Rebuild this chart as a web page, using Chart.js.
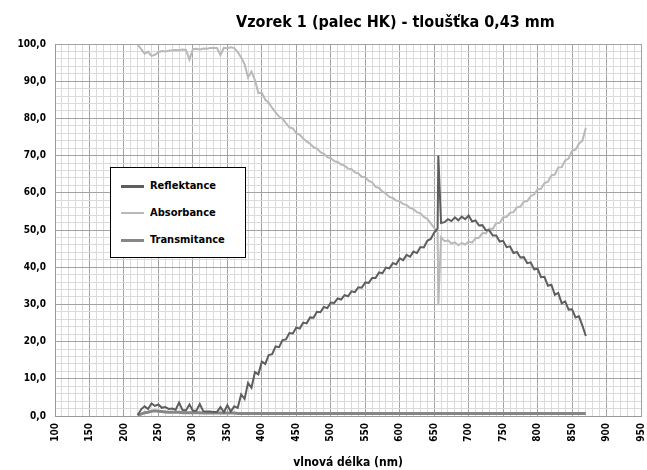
<!DOCTYPE html>
<html>
<head>
<meta charset="utf-8">
<script src="https://cdn.jsdelivr.net/npm/chart.js@4/dist/chart.umd.min.js"></script>
<style>
    body { margin: 0; background: #fff; }
    #wrap { position: relative; width: 647px; height: 470px; }
    #chartTitle {
        position: absolute; left: 236px; top: 14px; white-space: nowrap;
        font: bold 16px "DejaVu Sans Condensed", "Liberation Sans Narrow", sans-serif; line-height: 16px;
    }
    #legendBox {
        position: absolute; left: 110px; top: 167px; width: 134px; height: 89px;
        border: 1px solid #000; background: #fff;
        font: bold 11px "DejaVu Sans Condensed", "Liberation Sans Narrow", sans-serif;
    }
    .item { position: absolute; left: 10px; height: 14px; line-height: 14px; white-space: nowrap; }
    .item span.line { display: inline-block; width: 23px; vertical-align: middle; margin-right: 6px; }
</style>
</head>
<body>
<div id="wrap">
    <canvas id="spectrumChart" width="647" height="470"></canvas>
    <div id="chartTitle">Vzorek 1 (palec HK) - tloušťka 0,43 mm</div>
    <div id="legendBox"></div>
</div>
<script>
// wavelengths (nm)
const wavelengths = [220, 225, 230, 235, 240, 245, 250, 255, 260, 265, 270, 275, 280, 285, 290, 295, 300, 305, 310, 315,
    320, 325, 330, 335, 340, 345, 350, 355, 360, 365, 370, 375, 380, 385, 390, 395, 400, 405, 410, 415,
    420, 425, 430, 435, 440, 445, 450, 455, 460, 465, 470, 475, 480, 485, 490, 495, 500, 505, 510, 515,
    520, 525, 530, 535, 540, 545, 550, 555, 560, 565, 570, 575, 580, 585, 590, 595, 600, 605, 610, 615,
    620, 625, 630, 635, 640, 645, 650, 655, 656, 660, 665, 670, 675, 680, 685, 690, 695, 700, 705, 710,
    715, 720, 725, 730, 735, 740, 745, 750, 755, 760, 765, 770, 775, 780, 785, 790, 795, 800, 805, 810,
    815, 820, 825, 830, 835, 840, 845, 850, 855, 860, 865, 870];

const reflektance = [0.2, 1.8, 2.6, 1.9, 3.4, 2.7, 3.1, 2.2, 2.4, 1.9, 2.0, 1.7, 3.6, 1.6, 1.5, 3.1, 1.4, 1.4, 3.2, 1.3,
    1.2, 1.2, 1.1, 1.1, 2.4, 1.0, 2.9, 1.2, 2.6, 2.2, 5.8, 4.6, 8.9, 7.6, 11.8, 11.2, 14.6, 14.0, 16.4, 16.6,
    18.7, 18.5, 20.4, 20.6, 22.3, 22.2, 23.8, 23.5, 25.1, 24.9, 26.5, 26.4, 28.0, 27.9, 29.3, 29.0, 30.5, 30.4, 31.6, 31.3,
    32.5, 32.2, 33.5, 33.3, 34.6, 34.5, 35.9, 35.8, 37.1, 37.1, 38.6, 38.4, 39.9, 39.7, 41.1, 40.8, 42.4, 41.9, 43.3, 42.8,
    44.2, 43.8, 45.4, 45.3, 47.1, 47.6, 49.3, 50.4, 70.0, 51.9, 52.1, 52.9, 52.4, 53.4, 52.6, 53.6, 52.9, 53.9, 52.3, 52.6,
    51.2, 51.3, 49.9, 49.9, 48.5, 48.5, 46.9, 47.1, 45.4, 45.6, 43.8, 44.1, 42.6, 42.7, 41.1, 41.3, 39.4, 39.6, 37.3, 37.4,
    35.0, 35.3, 32.6, 33.1, 30.3, 30.8, 28.6, 28.7, 26.5, 26.8, 24.3, 21.5];

const absorbance = [99.9, 98.6, 97.4, 97.9, 96.8, 97.1, 97.8, 98.1, 98.0, 98.2, 98.3, 98.4, 98.3, 98.5, 98.4, 95.8, 98.6, 98.7, 98.5, 98.8,
    98.7, 98.9, 98.9, 98.9, 97.0, 99.0, 98.8, 99.1, 98.9, 97.8, 96.4, 94.6, 91.0, 92.6, 90.3, 86.8, 86.9, 85.0, 84.2, 82.8,
    81.6, 80.5, 79.9, 78.7, 77.6, 77.3, 76.0, 75.6, 74.6, 73.8, 73.2, 72.3, 71.9, 70.9, 70.5, 69.6, 69.3, 68.5, 68.3, 67.6,
    67.3, 66.5, 66.4, 65.5, 65.2, 64.3, 64.2, 63.2, 62.8, 61.6, 61.3, 60.3, 59.8, 58.9, 58.6, 57.9, 57.7, 57.0, 56.7, 55.9,
    55.6, 54.8, 54.5, 53.5, 53.0, 51.8, 50.6, 49.4, 29.8, 48.0, 47.0, 47.2, 46.4, 46.7, 45.9, 46.5, 46.1, 46.9, 46.6, 47.8,
    47.9, 49.2, 49.1, 50.4, 50.3, 51.8, 51.9, 53.4, 53.5, 54.6, 54.8, 56.1, 56.3, 57.6, 57.8, 59.1, 59.6, 60.9, 61.1, 62.6,
    63.0, 64.7, 64.9, 66.8, 66.9, 68.7, 69.2, 71.3, 71.6, 73.2, 74.0, 77.5];

const transmitance = [0.3, 0.5, 0.9, 1.0, 1.3, 1.4, 1.3, 1.2, 1.1, 1.0, 1.0, 1.0, 1.0, 0.9, 0.9, 0.9, 0.9, 0.9, 0.9, 0.8,
    0.8, 0.8, 0.8, 0.8, 0.8, 0.8, 0.8, 0.8, 0.8, 0.7, 0.7, 0.7, 0.7, 0.7, 0.7, 0.7, 0.7, 0.7, 0.7, 0.7,
    0.7, 0.7, 0.7, 0.7, 0.7, 0.7, 0.7, 0.7, 0.7, 0.7, 0.7, 0.7, 0.7, 0.7, 0.7, 0.7, 0.7, 0.7, 0.7, 0.7,
    0.7, 0.7, 0.7, 0.7, 0.7, 0.7, 0.7, 0.7, 0.7, 0.7, 0.7, 0.7, 0.7, 0.7, 0.7, 0.7, 0.7, 0.7, 0.7, 0.7,
    0.7, 0.7, 0.7, 0.7, 0.7, 0.7, 0.7, 0.7, 0.7, 0.7, 0.7, 0.7, 0.7, 0.7, 0.7, 0.7, 0.7, 0.7, 0.7, 0.7,
    0.7, 0.7, 0.7, 0.7, 0.7, 0.7, 0.7, 0.7, 0.7, 0.7, 0.7, 0.7, 0.7, 0.7, 0.7, 0.7, 0.7, 0.7, 0.7, 0.7,
    0.7, 0.7, 0.7, 0.7, 0.7, 0.7, 0.7, 0.7, 0.7, 0.7, 0.7, 0.7];

const seriesNames = ["Reflektance", "Absorbance", "Transmitance"];
const seriesColors = ["#5e5e5e", "#b9b9b9", "#868686"];
const seriesWidths = [2, 2, 3];
const legendWidths = [3, 2, 3];

const tickFont = { family: "'DejaVu Sans Condensed', 'Liberation Sans Narrow', sans-serif", size: 10, weight: "bold" };

function toPoints(values) {
    return wavelengths.map((w, i) => ({ x: w, y: values[i] }));
}

// legend box (html overlay)
const legendBox = document.getElementById("legendBox");
seriesNames.forEach((name, i) => {
    let item = document.createElement("div");
    item.className = "item";
    item.style.top = (11 + i * 27) + "px";
    item.innerHTML = '<span class="line" style="border-top:' + legendWidths[i] + 'px solid ' + seriesColors[i] + '"></span>' + name;
    legendBox.appendChild(item);
});

const ctx = document.getElementById("spectrumChart").getContext("2d");
new Chart(ctx, {
    type: "line",
    data: {
        datasets: [reflektance, absorbance, transmitance].map((vals, i) => ({
            label: seriesNames[i],
            data: toPoints(vals),
            borderColor: seriesColors[i],
            borderWidth: seriesWidths[i],
            pointRadius: 0,
            tension: 0,
            fill: false
        }))
    },
    options: {
        responsive: false,
        animation: false,
        layout: { padding: { top: 44, right: 0, bottom: 0, left: 0 } },
        plugins: {
            legend: { display: false },
            tooltip: { enabled: false }
        },
        scales: {
            x: {
                type: "linear",
                min: 100,
                max: 950,
                afterFit: scale => {
                    scale.height = 54;
                    scale.paddingLeft = 0;
                    scale.paddingRight = 6;
                },
                border: { color: "#999" },
                grid: {
                    drawTicks: false,
                    color: c => (c.tick && c.tick.value % 50 === 0) ? "#a2a2a2" : "#dadada"
                },
                ticks: {
                    stepSize: 10,
                    maxTicksLimit: 200,
                    autoSkip: false,
                    maxRotation: 90,
                    minRotation: 90,
                    padding: 7,
                    color: "#000",
                    font: tickFont,
                    callback: v => (v % 50 === 0) ? String(v) : ""
                },
                title: {
                    display: true,
                    text: "vlnová délka (nm)",
                    color: "#000",
                    padding: { top: 4, bottom: 0 },
                    font: { family: tickFont.family, size: 12, weight: "bold" }
                }
            },
            y: {
                min: 0,
                max: 100,
                afterFit: scale => { scale.width = 55; },
                border: { color: "#999" },
                grid: {
                    drawTicks: false,
                    color: c => (c.tick && c.tick.value % 10 === 0) ? "#a2a2a2" : "#dadada"
                },
                ticks: {
                    stepSize: 2,
                    maxTicksLimit: 200,
                    autoSkip: false,
                    padding: 9,
                    color: "#000",
                    font: tickFont,
                    callback: v => (v % 10 === 0) ? v.toFixed(1).replace(".", ",") : ""
                }
            }
        }
    }
});
</script>
</body>
</html>
